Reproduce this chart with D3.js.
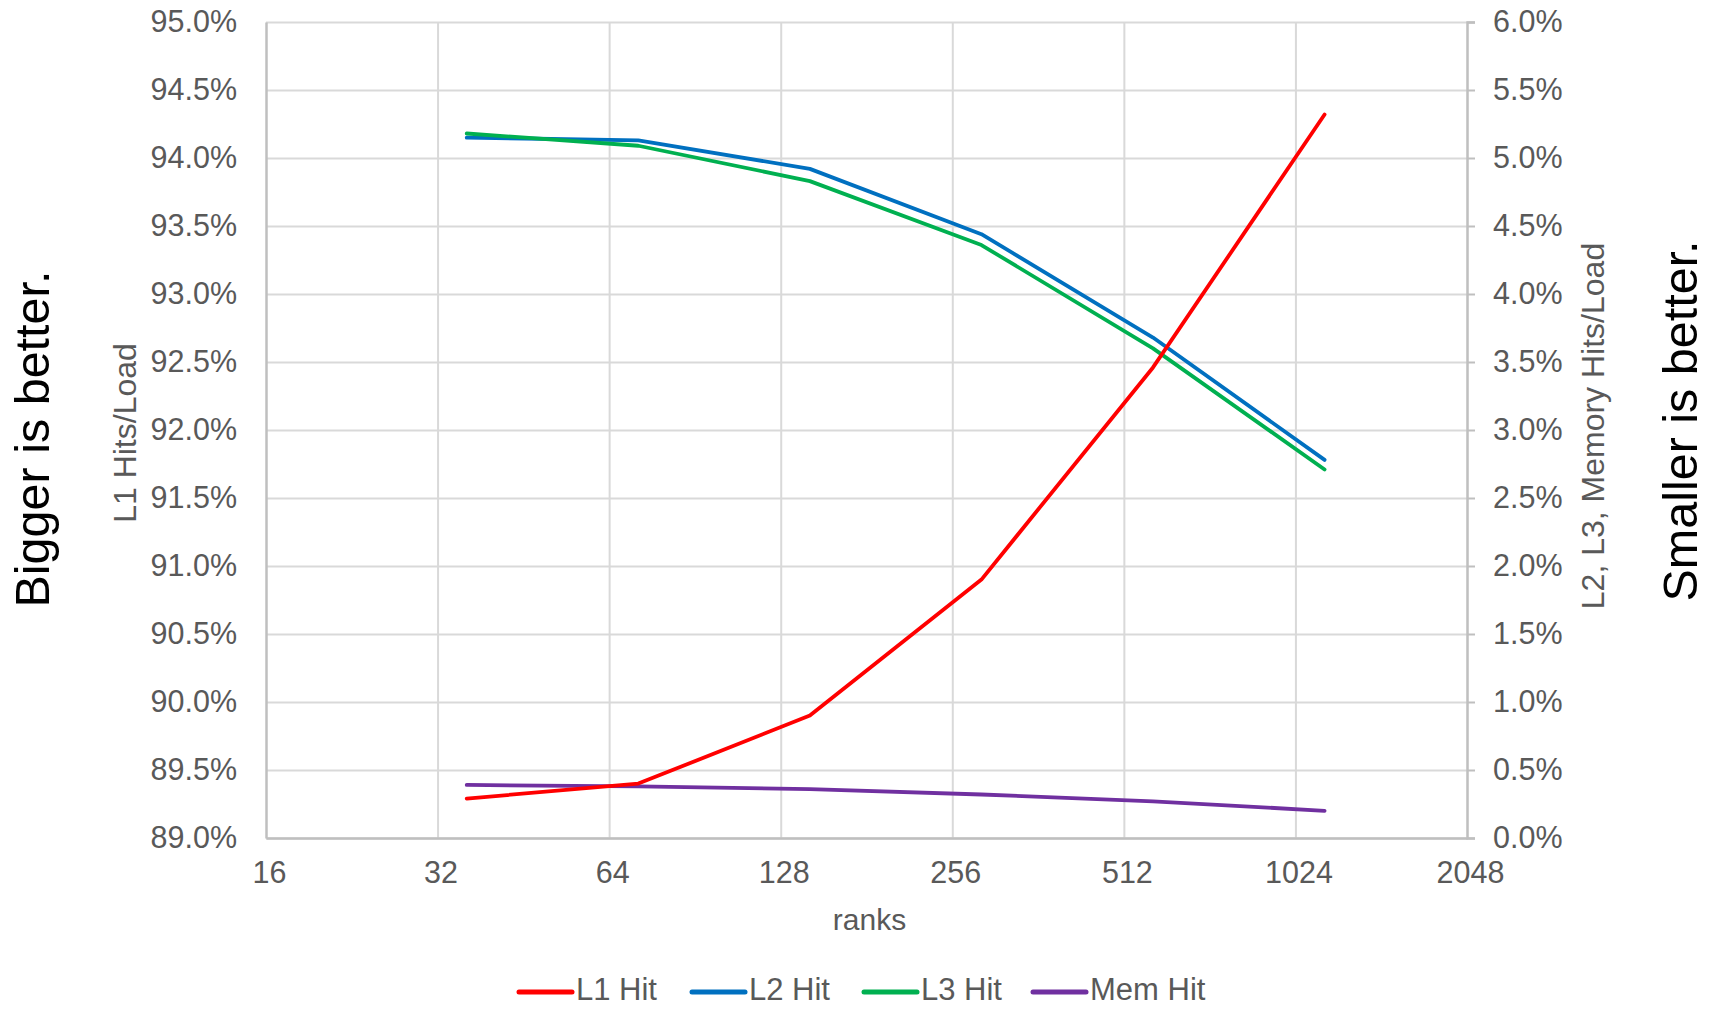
<!DOCTYPE html>
<html>
<head>
<meta charset="utf-8">
<script src="https://cdn.jsdelivr.net/npm/d3@7"></script>
<style>
    body { margin: 0; background: #fff; overflow: hidden; }
    svg { display: block; }
    text { font-family: "Liberation Sans", Arial, sans-serif; }
</style>
</head>
<body>
<svg id="chart"></svg>
<script>
const ranks = [36, 72, 144, 288, 576, 1152];
const l1Hit = [89.29, 89.40, 89.90, 90.90, 92.46, 94.32];
const l2Hit = [5.15, 5.13, 4.92, 4.44, 3.68, 2.78];
const l3Hit = [5.18, 5.09, 4.83, 4.36, 3.60, 2.71];
const memHit = [0.39, 0.38, 0.36, 0.32, 0.27, 0.20];

const xTicks = [16, 32, 64, 128, 256, 512, 1024, 2048];
const leftTicks = [89, 89.5, 90, 90.5, 91, 91.5, 92, 92.5, 93, 93.5, 94, 94.5, 95];
const rightTicks = [0, 0.5, 1, 1.5, 2, 2.5, 3, 3.5, 4, 4.5, 5, 5.5, 6];

const seriesNames = ["L1 Hit", "L2 Hit", "L3 Hit", "Mem Hit"];
const seriesColors = ["#ff0000", "#0070c0", "#00b050", "#7030a0"];

const width = 1711, height = 1011;
const plotLeft = 266, plotRight = 1467, plotTop = 22, plotBottom = 838;

const svg = d3.select("#chart")
    .attr("width", width)
    .attr("height", height)
    .attr("viewBox", [0, 0, width, height]);

const x = d3.scaleLog().base(2).domain([16, 2048]).range([plotLeft, plotRight]);
const yL = d3.scaleLinear().domain([89, 95]).range([plotBottom, plotTop]);
const yR = d3.scaleLinear().domain([0, 6]).range([plotBottom, plotTop]);

const pct = v => d3.format(".1f")(v) + "%";

// grid
svg.append("g")
    .attr("transform", `translate(${plotLeft},0)`)
    .call(d3.axisLeft(yL).tickValues(leftTicks).tickSize(-(plotRight - plotLeft)).tickFormat(""))
    .call(g => g.select(".domain").remove())
    .call(g => g.selectAll("line").attr("stroke", "#d9d9d9").attr("stroke-width", 2));

svg.append("g")
    .attr("transform", `translate(0,${plotBottom})`)
    .call(d3.axisBottom(x).tickValues(xTicks.slice(1, -1)).tickSize(-(plotBottom - plotTop)).tickFormat(""))
    .call(g => g.select(".domain").remove())
    .call(g => g.selectAll("line").attr("stroke", "#d9d9d9").attr("stroke-width", 2));

// axes
const leftAxis = svg.append("g")
    .attr("transform", `translate(${plotLeft},0)`)
    .call(d3.axisLeft(yL).tickValues(leftTicks).tickSize(0).tickPadding(29).tickFormat(pct));

const rightAxis = svg.append("g")
    .attr("transform", `translate(${plotRight},0)`)
    .call(d3.axisRight(yR).tickValues(rightTicks).tickSize(8).tickPadding(18).tickFormat(pct));

const bottomAxis = svg.append("g")
    .attr("transform", `translate(0,${plotBottom})`)
    .call(d3.axisBottom(x).tickValues(xTicks).tickSize(0).tickPadding(21).tickFormat(d3.format("d")));

[leftAxis, rightAxis, bottomAxis].forEach(g => {
    g.select(".domain").attr("stroke", "#bfbfbf").attr("stroke-width", 2.5);
    g.selectAll(".tick line").attr("stroke", "#bfbfbf").attr("stroke-width", 2);
    g.selectAll(".tick text")
        .attr("fill", "#595959")
        .style("font-size", "30.5px");
});
bottomAxis.selectAll(".tick text").attr("dy", "0.8em").attr("dx", 3);

// lines
const lineL = d3.line().x((d, i) => x(ranks[i])).y(d => yL(d));
const lineR = d3.line().x((d, i) => x(ranks[i])).y(d => yR(d));

const plotted = [
    {values: l2Hit, line: lineR, color: seriesColors[1]},
    {values: l3Hit, line: lineR, color: seriesColors[2]},
    {values: memHit, line: lineR, color: seriesColors[3]},
    {values: l1Hit, line: lineL, color: seriesColors[0]}
];

svg.append("g")
    .selectAll("path")
    .data(plotted)
    .join("path")
    .attr("d", d => d.line(d.values))
    .attr("fill", "none")
    .attr("stroke", d => d.color)
    .attr("stroke-width", 3.8)
    .attr("stroke-linejoin", "round")
    .attr("stroke-linecap", "round");

// titles
svg.append("text")
    .text("ranks")
    .attr("x", (plotLeft + plotRight) / 2 + 3)
    .attr("y", 922)
    .attr("text-anchor", "middle")
    .attr("dominant-baseline", "middle")
    .attr("fill", "#595959")
    .style("font-size", "30px");

svg.append("text")
    .text("L1 Hits/Load")
    .attr("transform", "translate(128,433) rotate(-90)")
    .attr("text-anchor", "middle")
    .attr("dominant-baseline", "middle")
    .attr("fill", "#595959")
    .style("font-size", "32px");

svg.append("text")
    .text("L2, L3, Memory Hits/Load")
    .attr("transform", "translate(1596,426) rotate(-90)")
    .attr("text-anchor", "middle")
    .attr("dominant-baseline", "middle")
    .attr("fill", "#595959")
    .style("font-size", "32px");

svg.append("text")
    .text("Bigger is better.")
    .attr("transform", "translate(36,439) rotate(-90)")
    .attr("text-anchor", "middle")
    .attr("dominant-baseline", "middle")
    .attr("fill", "#000")
    .style("font-size", "48.5px");

svg.append("text")
    .text("Smaller is better.")
    .attr("transform", "translate(1684,421) rotate(-90)")
    .attr("text-anchor", "middle")
    .attr("dominant-baseline", "middle")
    .attr("fill", "#000")
    .style("font-size", "48.5px");

// legend
const legendX = [519, 692, 864, 1033];
const legend = svg.append("g")
    .selectAll("g")
    .data(seriesNames)
    .join("g")
    .attr("transform", (d, i) => `translate(${legendX[i]},992)`);

legend.append("line")
    .attr("x1", 0).attr("x2", 53)
    .attr("stroke", (d, i) => seriesColors[i])
    .attr("stroke-width", 5)
    .attr("stroke-linecap", "round");

legend.append("text")
    .text(d => d)
    .attr("x", 57)
    .attr("dominant-baseline", "middle")
    .attr("fill", "#595959")
    .style("font-size", "31px");
</script>
</body>
</html>
